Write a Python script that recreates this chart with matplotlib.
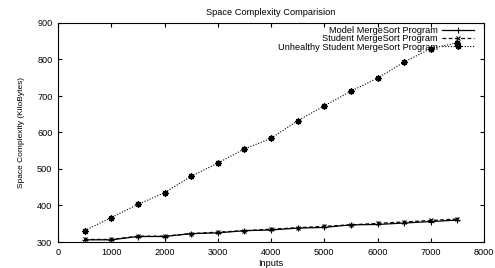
import matplotlib
matplotlib.use("Agg")
import matplotlib.pyplot as plt

inputs = [500, 1000, 1500, 2000, 2500, 3000, 3500, 4000, 4500, 5000, 5500, 6000, 6500, 7000, 7500]
model = [306, 306, 315, 315, 323, 325, 331, 333, 338, 340, 347, 348, 352, 356, 360]
student = [307, 307, 316, 316, 323, 327, 331, 335, 339, 343, 347, 351, 355, 359, 363]
unhealthy = [331, 367, 403, 435, 480, 516, 555, 584, 632, 673, 713, 749, 793, 830, 846]

labels = ["Model MergeSort Program", "Student MergeSort Program", "Unhealthy Student MergeSort Program"]

plt.rcParams['font.family'] = ['Liberation Sans', 'DejaVu Sans']
fig = plt.figure(figsize=(4.95, 2.68), dpi=100)
ax = fig.add_axes([58/495, 1-242/268, (484-58)/495, (242-23)/268])

ax.plot(inputs, model, color='black', lw=0.9, ls='-', marker='+', ms=4, mew=0.8, label=labels[0])
ax.plot(inputs, student, color='black', lw=0.9, ls=(0, (3, 2)), marker='x', ms=3.5, mew=0.8, label=labels[1])
ax.plot(inputs, unhealthy, color='black', lw=0.8, ls=(0, (1, 1.5)), marker=(8, 2, 0), ms=4.5, mew=1.0, label=labels[2])

ax.set_xlim(0, 8000)
ax.set_ylim(300, 900)
ax.set_xticks(range(0, 8001, 1000))
ax.set_yticks(range(300, 901, 100))
ax.tick_params(direction='in', top=True, right=True, labelsize=6.6, length=3, width=0.8, pad=4)
for s in ax.spines.values():
    s.set_linewidth(0.8)

ax.set_title("Space Complexity Comparision", fontsize=6.7, pad=6)
ax.set_xlabel("Inputs", fontsize=6.6, labelpad=2)
ax.set_ylabel("Space Complexity (KiloBytes)", fontsize=6, labelpad=9)

leg = ax.legend(loc='upper right', bbox_to_anchor=(1 - 10/426, 1 - 3/219), frameon=False,
                markerfirst=False, fontsize=6.7,
                handlelength=3.4, labelspacing=-0.08, borderaxespad=0, handletextpad=0.5,
                borderpad=0)

fig.savefig("out.png", dpi=100)
